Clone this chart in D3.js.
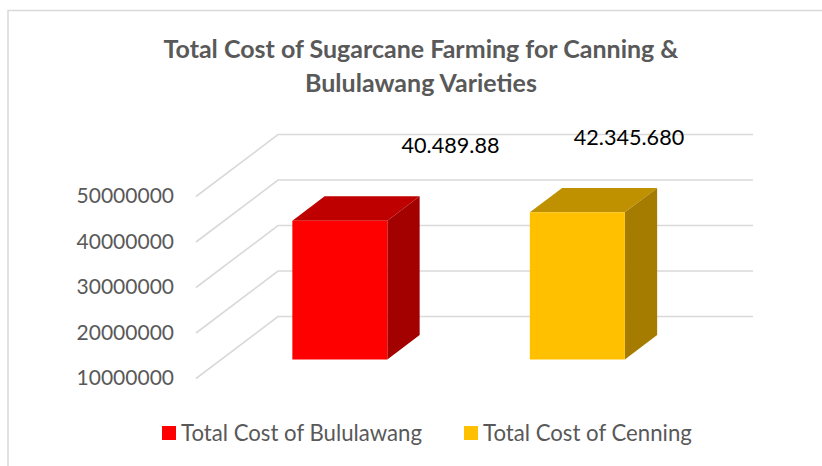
<!DOCTYPE html>
<html>
<head>
<meta charset="utf-8">
<script src="https://cdn.jsdelivr.net/npm/d3@7"></script>
<style>
  html, body { margin: 0; padding: 0; background: #fff; }
  svg { display: block; }
  text { font-family: Lato, sans-serif; }
</style>
</head>
<body>
<div id="chart"></div>
<script>
/***** Data *****/
var categories = ["Total Cost of Bululawang", "Total Cost of Cenning"];
var values = [40489880, 42345680];
var valueLabels = ["40.489.88", "42.345.680"];
var barColors = ["#ff0000", "#ffc000"];
var topColors = ["#bf0000", "#bf9000"];
var sideColors = ["#a30000", "#a67c00"];
var yTicks = [10000000, 20000000, 30000000, 40000000, 50000000];
var titleLines = ["Total Cost of Sugarcane Farming for Canning &", "Bululawang Varieties"];

/***** Layout *****/
var width = 822, height = 466;
var depthX = 82, depthY = -62;   // floor depth, front to back wall
var barDepth = [0.306, 0.70];    // where the bars start and end in the depth

var svg = d3.select("#chart").append("svg")
  .attr("width", width)
  .attr("height", height);

var x = d3.scaleBand().domain(categories).range([196, 671]).paddingInner(0.6).paddingOuter(0.3);
var y = d3.scaleLinear().domain([10000000, 50000000]).range([378.5, 196.5]);
var depth = d3.scaleLinear().domain([0, 1]);
var dx = depth.copy().range([0, depthX]);
var dy = depth.copy().range([0, depthY]);

// outer frame
svg.append("path")
  .attr("d", "M8,466V10.5H822")
  .attr("fill", "none")
  .attr("stroke", "#d9d9d9")
  .attr("stroke-width", 1.5);

// title
svg.append("text")
  .attr("text-anchor", "middle")
  .attr("font-size", 25)
  .attr("font-weight", 700)
  .attr("fill", "#595959")
  .selectAll("tspan")
  .data(titleLines)
  .join("tspan")
  .attr("x", 421)
  .attr("y", function(d, i) { return 57.5 + i * 34; })
  .text(function(d) { return d; });

// gridlines, side wall + back wall
var grid = svg.append("g")
  .attr("fill", "none")
  .attr("stroke", "#d9d9d9")
  .attr("stroke-width", 1.6);

grid.selectAll("path")
  .data(yTicks)
  .join("path")
  .attr("d", function(d) {
    var path = d3.path();
    path.moveTo(x.range()[0], y(d));
    path.lineTo(x.range()[0] + dx(1), y(d) + dy(1));
    path.lineTo(x.range()[1] + dx(1), y(d) + dy(1));
    return path.toString();
  });

// y axis labels
var yAxis = d3.axisLeft(y).tickValues(yTicks).tickSize(0).tickPadding(22).tickFormat(d3.format("d"));
var yAxisG = svg.append("g")
  .attr("transform", "translate(" + x.range()[0] + ",-0.5)")
  .call(yAxis);
yAxisG.select(".domain").remove();
yAxisG.selectAll("text")
  .attr("font-size", 21)
  .attr("font-family", "Lato")
  .attr("fill", "#595959");

// bars: top, side, front
var bars = svg.selectAll("g.bar")
  .data(categories)
  .join("g")
  .attr("class", "bar");

function pt(px, val, d) {
  return [px + dx(d), y(val) + dy(d)];
}

bars.append("polygon")
  .attr("fill", function(d, i) { return topColors[i]; })
  .attr("points", function(d, i) {
    var l = x(d), r = l + x.bandwidth();
    return [pt(l, values[i], barDepth[0]), pt(r, values[i], barDepth[0]), pt(r, values[i], barDepth[1]), pt(l, values[i], barDepth[1])].join(" ");
  });

bars.append("polygon")
  .attr("fill", function(d, i) { return sideColors[i]; })
  .attr("points", function(d, i) {
    var r = x(d) + x.bandwidth();
    return [pt(r, yTicks[0], barDepth[0]), pt(r, values[i], barDepth[0]), pt(r, values[i], barDepth[1]), pt(r, yTicks[0], barDepth[1])].join(" ");
  });

bars.append("polygon")
  .attr("fill", function(d, i) { return barColors[i]; })
  .attr("points", function(d, i) {
    var l = x(d), r = l + x.bandwidth();
    return [pt(l, yTicks[0], barDepth[0]), pt(r, yTicks[0], barDepth[0]), pt(r, values[i], barDepth[0]), pt(l, values[i], barDepth[0])].join(" ");
  });

// value labels, placed by hand in the original
var labelX = [450.5, 629];
var labelY = [152.5, 145];
svg.selectAll("text.value")
  .data(valueLabels)
  .join("text")
  .attr("class", "value")
  .attr("text-anchor", "middle")
  .attr("font-size", 21.6)
  .attr("fill", "#000")
  .attr("x", function(d, i) { return labelX[i]; })
  .attr("y", function(d, i) { return labelY[i]; })
  .text(function(d) { return d; });

// legend
var legendX = [162, 464];
var legend = svg.selectAll("g.legend")
  .data(categories)
  .join("g")
  .attr("class", "legend")
  .attr("transform", function(d, i) { return "translate(" + legendX[i] + ",440)"; });

legend.append("rect")
  .attr("width", 14)
  .attr("height", 14)
  .attr("y", -14)
  .attr("fill", function(d, i) { return barColors[i]; });

legend.append("text")
  .attr("x", 19)
  .attr("y", 1)
  .attr("font-size", 22.2)
  .attr("fill", "#595959")
  .text(function(d) { return d; });
</script>
</body>
</html>
